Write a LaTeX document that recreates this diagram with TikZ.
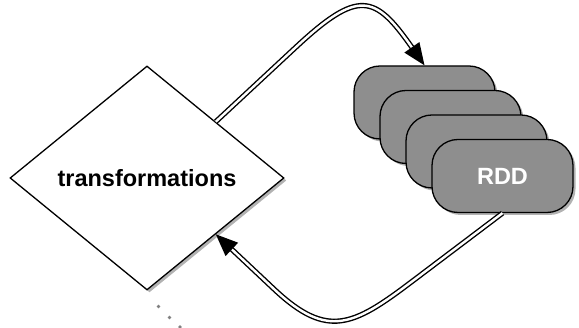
\documentclass[tikz,border=0pt]{standalone}
\usepackage{fontspec}
\setmainfont{Liberation Sans}
\usetikzlibrary{shapes.geometric, arrows.meta, shadows}
\definecolor{rddgray}{RGB}{142,142,142}
\begin{document}
\begin{tikzpicture}[x=1pt, y=1pt,
  softshadow/.style={drop shadow={shadow xshift=2.5pt, shadow yshift=-2.5pt, opacity=0.3, fill=black}},
  labelfont/.style={font=\bfseries\fontsize{23.5}{28}\selectfont},
  decision/.style={diamond, draw=black, line width=1.3pt, fill=white,
    minimum width=274pt, minimum height=224pt, inner sep=0pt, labelfont, softshadow},
  rdd/.style={rectangle, rounded corners=26pt, draw=black, line width=1.3pt, fill=rddgray,
    minimum width=141pt, minimum height=73pt, inner sep=0pt, labelfont, text=white, softshadow},
  flow/.style={draw=black, double=white, double distance=2.4pt, line width=1.4pt,
    -{Triangle[length=22pt, width=18pt]}},
  trail/.style={circle, fill=black!50, inner sep=0pt, minimum size=3.6pt}]
  \useasboundingbox (0,0) rectangle (579,328);

  % the transformation step
  \node[decision] (trans) at (147,150) {transformations};

  % stack of datasets, back to front
  \node[rdd] (r1) at (424.5,225.5) {};
  \node[rdd] (r2) at (450.5,201) {};
  \node[rdd] (r3) at (476.5,176.5) {};
  \node[rdd] (r4) at (502.5,152) {RDD};

  % transformations produce datasets
  \coordinate (p) at (295,280);
  \draw[flow] (trans.north east) -- (p)
    to[out=43, in=125, looseness=1.7] (r1.north);

  % datasets feed back into transformations
  \coordinate (q) at (410,45);
  \coordinate (r) at (275,38);
  \draw[flow] (r4.south) -- (q)
    to[out=217, in=-43, looseness=1.35] (r) -- (trans.south east);

  % trailing dots
  \node[trail] (d1) at (158.5,21.5) {};
  \node[trail] (d2) at (169.5,10.5) {};
  \node[trail] (d3) at (180,1) {};
\end{tikzpicture}
\end{document}
